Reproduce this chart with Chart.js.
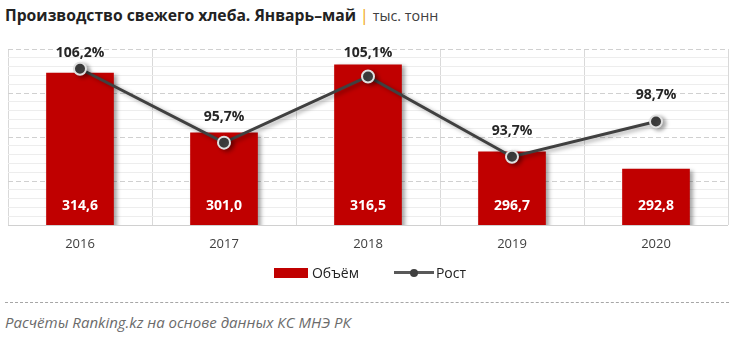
<!DOCTYPE html>
<html>
<head>
<meta charset="utf-8">
<script src="https://cdn.jsdelivr.net/npm/chart.js@4.4.1/dist/chart.umd.min.js"></script>
<style>
  html, body { margin: 0; padding: 0; background: #fff; }
  body { width: 740px; height: 340px; position: relative; overflow: hidden; font-family: 'Open Sans', sans-serif; }
  #title { position: absolute; left: 5px; top: 4px; font-size: 15.7px; font-weight: bold; color: #222; white-space: nowrap; }
  #title .pipe { color: #f0a30a; font-weight: normal; }
  #title .unit { font-weight: normal; color: #404040; font-size: 14.3px; }
  #wrap { position: absolute; left: 0; top: 0; width: 740px; height: 290px; }
  #legend { position: absolute; left: 0; top: 263px; width: 740px; display: flex; justify-content: center; align-items: center; font-size: 14px; color: #222; }
  #legend .box { width: 34px; height: 10px; background: #c00000; margin-right: 4px; }
  #legend .ln { width: 40px; height: 3px; background: #595959; position: relative; margin-left: 35px; margin-right: 2px; }
  #legend .ln i { position: absolute; left: 16px; top: -2.5px; width: 8px; height: 8px; border-radius: 50%; background: #404040; }
  #sep { position: absolute; left: 5px; top: 302px; width: 724px; border-top: 1.5px dashed #a6a6a6; }
  #foot { position: absolute; left: 5px; top: 312px; font-size: 15px; font-style: italic; color: #6b6b6b; white-space: nowrap; }
</style>
</head>
<body>
<div id="title">Производство свежего хлеба. Январь–май <span class="pipe">|</span> <span class="unit">тыс. тонн</span></div>
<div id="wrap"><canvas id="chart"></canvas></div>
<div id="legend"><span class="box"></span><span>Объём</span><span class="ln"><i></i></span><span>Рост</span></div>
<div id="sep"></div>
<div id="foot">Расчёты Ranking.kz на основе данных КС МНЭ РК</div>
<script>
var years = ['2016', '2017', '2018', '2019', '2020'];
var volume = [314.6, 301.0, 316.5, 296.7, 292.8];
var growth = [106.2, 95.7, 105.1, 93.7, 98.7];

function fmt(v) {
  return v.toFixed(1).replace('.', ',');
}

// drop shadow under bars and the line
var shadowPlugin = {
  id: 'shadow',
  beforeDatasetDraw: function(chart) {
    var c = chart.ctx;
    c.save();
    c.shadowColor = 'rgba(0,0,0,0.35)';
    c.shadowBlur = 4;
    c.shadowOffsetX = 3;
    c.shadowOffsetY = 2;
  },
  afterDatasetDraw: function(chart) {
    chart.ctx.restore();
  }
};

// value labels
var labelPlugin = {
  id: 'labels',
  afterDatasetsDraw: function(chart) {
    var c = chart.ctx;
    var area = chart.chartArea;
    c.save();
    c.textAlign = 'center';
    c.textBaseline = 'middle';
    c.font = 'bold 14px "Open Sans"';
    chart.getDatasetMeta(0).data.forEach(function(bar, i) {
      c.fillStyle = '#ffffff';
      c.fillText(fmt(volume[i]), bar.x, area.bottom - 19);
    });
    chart.getDatasetMeta(1).data.forEach(function(pt, i) {
      c.fillStyle = '#262626';
      c.fillText(fmt(growth[i]) + '%', pt.x, Math.max(pt.y - 26, area.top + 4));
    });
    c.restore();
  }
};

var ctx = document.getElementById('chart').getContext('2d');
var chart = new Chart(ctx, {
  type: 'bar',
  data: {
    labels: years,
    datasets: [{
      label: 'Объём',
      data: volume,
      backgroundColor: '#c00000',
      barPercentage: 0.47,
      categoryPercentage: 1,
      yAxisID: 'y',
      order: 1
    }, {
      type: 'line',
      label: 'Рост',
      data: growth,
      borderColor: '#404040',
      borderWidth: 3,
      pointRadius: 6,
      pointBorderWidth: 2,
      pointBackgroundColor: '#404040',
      pointBorderColor: '#e0e0e0',
      yAxisID: 'y1',
      order: 0
    }]
  },
  options: {
    responsive: true,
    maintainAspectRatio: false,
    animation: false,
    layout: { padding: { left: 5, right: 12, top: 49, bottom: 0 } },
    plugins: {
      legend: { display: false },
      tooltip: { enabled: false }
    },
    scales: {
      x: {
        grid: { offset: true, color: '#d9d9d9', drawTicks: false },
        border: { display: false },
        ticks: { color: '#404040', font: { family: 'Open Sans', size: 13 }, padding: 11 },
        afterFit: function(s) { s.height = 65; }
      },
      y: {
        min: 280,
        max: 320,
        ticks: { stepSize: 2, display: false },
        grid: {
          drawTicks: false,
          color: function(c) { return c.tick && c.tick.value % 10 === 0 ? '#d0d0d0' : '#ededed'; }
        },
        border: {
          display: false,
          dash: function(c) { return c.tick && c.tick.value % 10 === 0 && c.tick.value !== 280 ? [5, 3] : []; }
        },
        afterFit: function(s) { s.width = 0; }
      },
      y1: {
        display: false,
        position: 'right',
        min: 84,
        max: 109
      }
    }
  },
  plugins: [shadowPlugin, labelPlugin]
});
</script>
</body>
</html>
